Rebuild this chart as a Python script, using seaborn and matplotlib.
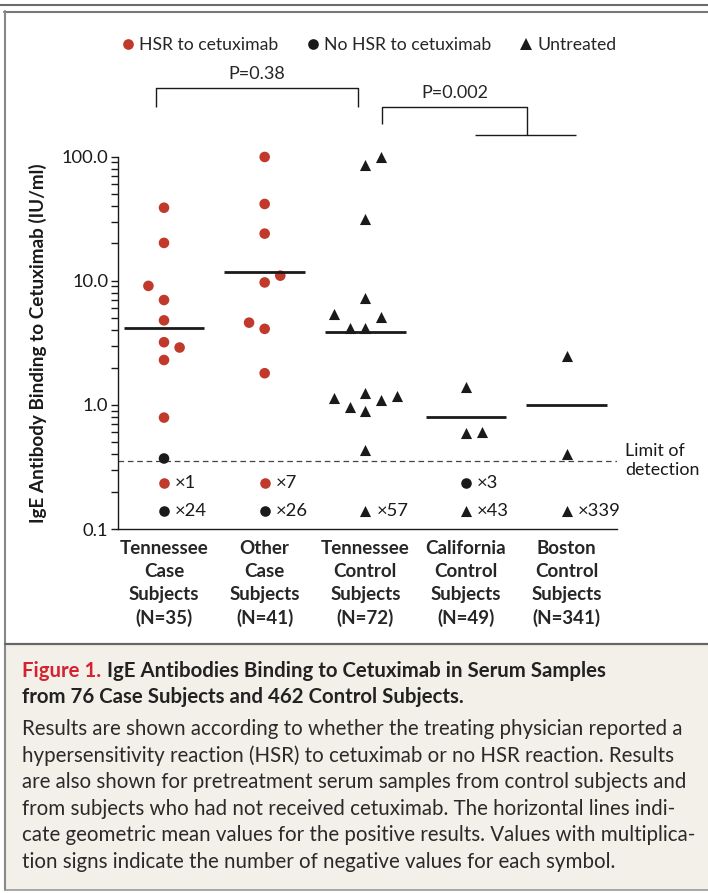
import numpy as np
import pandas as pd
import matplotlib
matplotlib.use("Agg")
import matplotlib.pyplot as plt
import seaborn as sns
from matplotlib.lines import Line2D
from matplotlib.patches import Rectangle
from matplotlib.ticker import LogLocator, NullFormatter

# --- data ---
groups = ["Tennessee\nCase\nSubjects\n(N=35)",
          "Other\nCase\nSubjects\n(N=41)",
          "Tennessee\nControl\nSubjects\n(N=72)",
          "California\nControl\nSubjects\n(N=49)",
          "Boston\nControl\nSubjects\n(N=341)"]

tn_case_hsr = [38.8, 20.2, 9.1, 7.0, 4.8, 3.2, 2.9, 2.3, 0.79]
tn_case_nohsr = [0.37]
other_case_hsr = [99.5, 41.6, 24.0, 11.0, 9.7, 4.6, 4.1, 1.8]
tn_ctrl = [100.0, 85.7, 31.3, 7.3, 5.4, 5.1, 4.2, 4.2,
           1.24, 1.18, 1.14, 1.09, 0.97, 0.90, 0.43]
ca_ctrl = [1.40, 0.61, 0.59]
bos_ctrl = [2.48, 0.40]

geo_means = [4.2, 11.8, 3.9, 0.80, 1.0]
neg_hsr = [1, 7, 0, 0, 0]
neg_nohsr = [24, 26, 0, 3, 0]
neg_untreated = [0, 0, 57, 43, 339]
limit_of_detection = 0.355
p_labels = ["P=0.38", "P=0.002"]

# horizontal jitter slots for each point (layout only)
tn_case_hsr_slot = [0, 0, -1, 0, 0, 0, 1, 0, 0]
tn_case_nohsr_slot = [0]
other_case_hsr_slot = [0, 0, 0, 1, 0, -1, 0, 0]
tn_ctrl_slot = [1, 0, 0, 0, -2, 1, -1, 0, 0, 2, -2, 1, -1, 0, 0]
ca_ctrl_slot = [0, 1, 0]
bos_ctrl_slot = [0, 0]

caption_title = ["IgE Antibodies Binding to Cetuximab in Serum Samples",
                 "from 76 Case Subjects and 462 Control Subjects."]
caption_body = [
    "Results are shown according to whether the treating physician reported a",
    "hypersensitivity reaction (HSR) to cetuximab or no HSR reaction. Results",
    "are also shown for pretreatment serum samples from control subjects and",
    "from subjects who had not received cetuximab. The horizontal lines indi-",
    "cate geometric mean values for the positive results. Values with multiplica-",
    "tion signs indicate the number of negative values for each symbol.",
]

RED = "#c0392b"
DARK = "#1a1a1a"
STEP = 0.155

sns.set_style("ticks")
plt.rcParams["font.family"] = ["Lato", "DejaVu Sans"]

frames = []
for vals, slots, gi, kind in [
        (tn_case_hsr, tn_case_hsr_slot, 0, "HSR"),
        (tn_case_nohsr, tn_case_nohsr_slot, 0, "No HSR"),
        (other_case_hsr, other_case_hsr_slot, 1, "HSR"),
        (tn_ctrl, tn_ctrl_slot, 2, "Untreated"),
        (ca_ctrl, ca_ctrl_slot, 3, "Untreated"),
        (bos_ctrl, bos_ctrl_slot, 4, "Untreated")]:
    frames.append(pd.DataFrame({"x": gi + np.array(slots) * STEP,
                                "value": vals, "kind": kind}))
df = pd.concat(frames, ignore_index=True)

W, H = 708, 893
fig = plt.figure(figsize=(W / 100, H / 100), dpi=100)
ax = fig.add_axes([118 / W, 1 - 529 / H, (617 - 118) / W, (529 - 156.7) / H])
ax.set_yscale("log")

palette = {"HSR": RED, "No HSR": DARK, "Untreated": DARK}
circ = df[df["kind"] != "Untreated"]
tri = df[df["kind"] == "Untreated"]
sns.scatterplot(data=circ, x="x", y="value", hue="kind", palette=palette,
                marker="o", s=58, linewidth=0, legend=False, ax=ax, clip_on=False)
sns.scatterplot(data=tri, x="x", y="value", color=DARK, marker="^", s=64,
                linewidth=0, legend=False, ax=ax, clip_on=False)

xs = np.arange(len(groups))
ax.hlines(geo_means, xs - 0.4, xs + 0.4, color=DARK, lw=2.0, zorder=1)

# limit of detection
ax.axhline(limit_of_detection, color="#444444", lw=0.9, ls=(0, (4.5, 3)), zorder=0)
ax.text(4.58, limit_of_detection, "Limit of\ndetection", ha="left", va="center",
        fontsize=12.8, color=DARK, linespacing=1.2, clip_on=False)

# negative-count rows
row_y = [0.233, 0.140]
for i in xs:
    present = []
    if neg_hsr[i]:
        present.append(("o", RED, neg_hsr[i], 58))
    if neg_nohsr[i]:
        present.append(("o", DARK, neg_nohsr[i], 58))
    if neg_untreated[i]:
        present.append(("^", DARK, neg_untreated[i], 64))
    rows = row_y[-len(present):]
    for (mk, col, n, sz), yy in zip(present, rows):
        ax.scatter([i], [yy], marker=mk, color=col, s=sz, linewidths=0, clip_on=False)
        ax.text(i + 0.11, yy, "\u00d7" + str(n), ha="left", va="center",
                fontsize=13.2, color=DARK)

# significance brackets
bk = dict(color=DARK, lw=1.0, clip_on=False, solid_capstyle="butt")
x0, x1 = 0 - 0.08, 2 - 0.07
ax.plot([x0, x0, x1, x1], [253, 355, 355, 250], **bk)
ax.text((x0 + x1) / 2, 463, p_labels[0], ha="center", va="center", fontsize=13)
x2, x3 = 2 + 0.17, 3 + 0.61
ax.plot([x2, x2, x3, x3], [183, 253, 253, 150], **bk)
ax.plot([3.09, 4.09], [150, 150], **bk)
ax.text(2.89, 324, p_labels[1], ha="center", va="center", fontsize=13)

ax.set_xlim(-0.457, 4.5)
ax.set_ylim(0.1, 100)
ax.set_yticks([0.1, 1, 10, 100], labels=["0.1", "1.0", "10.0", "100.0"])
ax.yaxis.set_minor_locator(LogLocator(base=10, subs=np.arange(2, 10)))
ax.yaxis.set_minor_formatter(NullFormatter())
ax.tick_params(axis="y", which="both", direction="out", length=5, width=1,
               color=DARK, labelsize=13.2, pad=2, labelcolor=DARK)
ax.set_xticks(xs, labels=groups)
ax.tick_params(axis="x", length=0, pad=8, labelsize=13.5)
for lbl in ax.get_xticklabels():
    lbl.set_fontweight("bold")
    lbl.set_linespacing(1.42)
ax.set_xlabel("")
ax.set_ylabel("IgE Antibody Binding to Cetuximab (IU/ml)", fontsize=13.6,
              fontweight="bold", color=DARK)
ax.yaxis.set_label_coords(-0.142, 0.5)
sns.despine(ax=ax)
for s in ("left", "bottom"):
    ax.spines[s].set_linewidth(1.0)
    ax.spines[s].set_color(DARK)

# legend
handles = [Line2D([], [], marker="o", ls="", color=RED, ms=7.7, mew=0),
           Line2D([], [], marker="o", ls="", color=DARK, ms=7.7, mew=0),
           Line2D([], [], marker="^", ls="", color=DARK, ms=8, mew=0)]
fig.legend(handles, ["HSR to cetuximab", "No HSR to cetuximab", "Untreated"],
           loc="center", bbox_to_anchor=(367 / W, 1 - 45 / H), ncol=3,
           frameon=False, fontsize=12.7, handletextpad=0.05, columnspacing=1.35,
           handlelength=1.2)

# frame and caption box
def fx(x):
    return x / W

def fy(y):
    return 1 - y / H

fig.add_artist(Rectangle((fx(6), fy(890)), fx(W) - fx(6), fy(645) - fy(890),
                         transform=fig.transFigure, color="#f3f0e9", lw=0, zorder=-5))
fig.add_artist(Line2D([0, 1], [fy(4.5), fy(4.5)], transform=fig.transFigure,
                      color="#6b6b6b", lw=1.5))
fig.add_artist(Line2D([fx(4), 1], [fy(12), fy(12)], transform=fig.transFigure,
                      color="#777777", lw=1.5))
fig.add_artist(Line2D([fx(5), fx(5)], [fy(11), fy(890)], transform=fig.transFigure,
                      color="#888888", lw=1.5))
fig.add_artist(Line2D([fx(5), 1], [fy(644), fy(644)], transform=fig.transFigure,
                      color="#666666", lw=1.6))
fig.add_artist(Line2D([fx(5), 1], [fy(890), fy(890)], transform=fig.transFigure,
                      color="#9a9a9a", lw=1.2))

t1 = fig.text(fx(22), fy(670.7), "Figure 1.", color="#d4232f", fontsize=14.7,
              fontweight="bold", va="center", ha="left")
ax.annotate(caption_title[0], xy=(1, 0), xycoords=t1, xytext=(4, 0),
            textcoords="offset points", va="bottom", ha="left", fontsize=14.7,
            fontweight="bold", color="#222222", annotation_clip=False)
fig.text(fx(22), fy(696.7), caption_title[1], color="#222222", fontsize=14.7,
         fontweight="bold", va="center", ha="left")
for k, line in enumerate(caption_body):
    fig.text(fx(22), fy(729.3 + 26.5 * k), line, color="#2a2a2a", fontsize=14.8,
             va="center", ha="left")

fig.savefig("out.png", dpi=100)
